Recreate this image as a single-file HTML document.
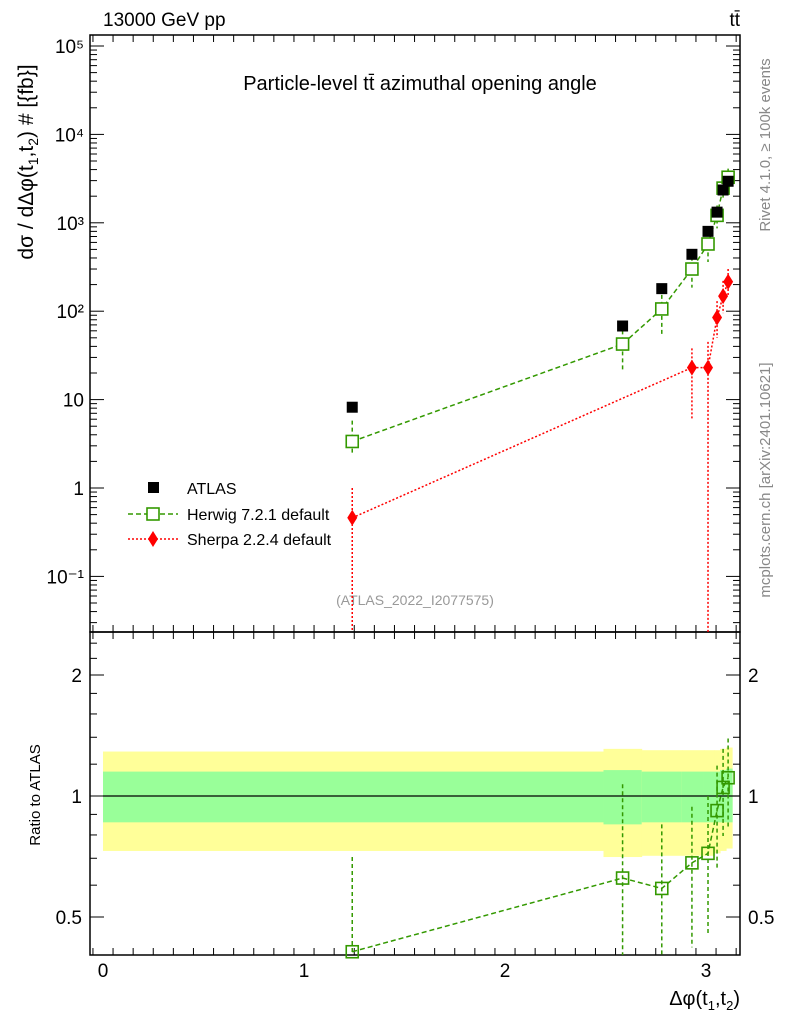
<!DOCTYPE html>
<html><head><meta charset="utf-8"><style>
body{margin:0;background:#fff}
svg{display:block;font-family:"Liberation Sans",sans-serif}
</style></head><body>
<svg id="c" width="786" height="1024" viewBox="0 0 786 1024">
<text x="103" y="26" font-size="19">13000 GeV pp</text>
<text x="740" y="26" font-size="19" text-anchor="end">tt̄</text>
<text x="420" y="90" font-size="20" text-anchor="middle">Particle-level tt̄ azimuthal opening angle</text>
<text transform="translate(770,145) rotate(-90)" font-size="15" fill="#888" text-anchor="middle">Rivet 4.1.0, ≥ 100k events</text>
<text transform="translate(770,480) rotate(-90)" font-size="15" fill="#888" text-anchor="middle">mcplots.cern.ch [arXiv:2401.10621]</text>
<text x="415" y="605" font-size="14" fill="#999" text-anchor="middle">(ATLAS_2022_I2077575)</text>
<text transform="translate(33,162) rotate(-90)" font-size="21" text-anchor="middle">dσ / dΔφ(t<tspan font-size="14" dy="5">1</tspan><tspan dy="-5">,t</tspan><tspan font-size="14" dy="5">2</tspan><tspan dy="-5">) # [{fb}]</tspan></text>
<text transform="translate(40,795) rotate(-90)" font-size="15" text-anchor="middle">Ratio to ATLAS</text>
<text x="740" y="1005" font-size="20" text-anchor="end">Δφ(t<tspan font-size="13" dy="5">1</tspan><tspan dy="-5">,t</tspan><tspan font-size="13" dy="5">2</tspan><tspan dy="-5">)</tspan></text>
<g id="g"></g>
</svg>
<script>
const xCenters=[1.24,2.585,2.78,2.93,3.01,3.055,3.085,3.11];
const binEdges=[0,2.49,2.68,2.88,2.99,3.04,3.07,3.10,3.13,3.14];
const atlas=[8.2,68,180,440,800,1320,2350,2950];
const herwig=[3.36,42.5,106,300,576,1214,2468,3275];
const herwigErrUp=[0.705,1.07,0.85,0.94,1.0,1.19,1.31,1.39];
const herwigErrDn=[0.3,0.3,0.3,0.42,0.45,0.655,0.795,0.83];
const sherpaX=[1.24,2.93,3.01,3.055,3.085,3.11];
const sherpa=[0.46,23,23,85,148,215];
const sherpaErrUp=[1.0,38,45,130,220,300];
const sherpaErrDn=[0.01,6,0.01,50,95,150];
const bandYellowUp=[1.29,1.31,1.30,1.30,1.30,1.30,1.31,1.32];
const bandYellowDn=[0.73,0.705,0.71,0.71,0.71,0.72,0.73,0.74];
const bandGreenUp=[1.15,1.16,1.15,1.15,1.15,1.15,1.16,1.17];
const bandGreenDn=[0.86,0.85,0.86,0.86,0.86,0.86,0.86,0.86];
const mainTicks=["10⁻¹","1","10","10²","10³","10⁴","10⁵"];
const ratioTicks=["0.5","1","2"];
const xTicks=["0","1","2","3"];

const L=90,R=740,T=35,MB=632,RB=955;
const X=v=>103+v*201;
const Y=v=>488-Math.log10(v)*88.4;
const RY=v=>796-Math.log2(v)*121;
const g=document.getElementById('g');
const NS='http://www.w3.org/2000/svg';
function el(t,a,p){const e=document.createElementNS(NS,t);for(const k in a)e.setAttribute(k,a[k]);(p||g).appendChild(e);return e;}
function cl(v,a,b){return Math.max(a,Math.min(b,v));}

for(let i=0;i<xCenters.length;i++){
  const x0=X(binEdges[i]),x1=X(binEdges[i+1]);
  let e=el('rect',{x:x0,y:RY(bandYellowUp[i]),width:x1-x0+0.5,height:RY(bandYellowDn[i])-RY(bandYellowUp[i]),fill:'#ffff99'});
  
  
  e=el('rect',{x:x0,y:RY(bandGreenUp[i]),width:x1-x0+0.5,height:RY(bandGreenDn[i])-RY(bandGreenUp[i]),fill:'#99ff99'});
  
  
}
el('line',{x1:103,x2:R,y1:RY(1),y2:RY(1),stroke:'#000','stroke-width':1.2});

for(const [t,b] of [[T,MB],[MB,RB]]){
  const f=el('rect',{x:L,y:t,width:R-L,height:b-t,fill:'none',stroke:'#000','stroke-width':1.5});
  
  
}
for(let d=-2;d<=5;d++){
  for(let m=1;m<10;m++){
    const v=m*Math.pow(10,d),y=Y(v);
    if(y<T||y>MB)continue;
    const len=m==1?14:7;
    el('line',{x1:L,x2:L+len,y1:y,y2:y,stroke:'#000'});
    el('line',{x1:R,x2:R-len,y1:y,y2:y,stroke:'#000'});
  }
}
mainTicks.forEach((s,i)=>{
  const t=el('text',{x:L-6,y:Y(Math.pow(10,i-1))+7,'font-size':19,'text-anchor':'end'});
  t.textContent=s;
  
  
});
[0.4,0.5,0.6,0.7,0.8,0.9,1,1.2,1.4,1.6,1.8,2,2.2,2.4].forEach(v=>{
  const y=RY(v);if(y<MB||y>RB)return;
  const len=(v==0.5||v==1||v==2)?14:7;
  el('line',{x1:L,x2:L+len,y1:y,y2:y,stroke:'#000'});
  el('line',{x1:R,x2:R-len,y1:y,y2:y,stroke:'#000'});
});
ratioTicks.forEach(s=>{
  let t=el('text',{x:L-8,y:RY(+s)+7,'font-size':19,'text-anchor':'end'});t.textContent=s;
  
  
  t=el('text',{x:R+8,y:RY(+s)+7,'font-size':19});t.textContent=s;
  
  
});
for(let k=-0.05;k<=3.2;k+=0.1){
  const v=Math.round(k*100)/100;const x=X(v);if(x<L||x>R)continue;
  const maj=Math.abs(v-Math.round(v))<0.01,len=maj?14:7;
  for(const [yb,dir] of [[MB,-1],[T,1],[RB,-1],[MB,1]]) el('line',{x1:x,x2:x,y1:yb,y2:yb+dir*len,stroke:'#000'});
}
xTicks.forEach(s=>{
  const t=el('text',{x:X(+s),y:RB+22,'font-size':19,'text-anchor':'middle'});t.textContent=s;
  
  
});

const GR='#339900';
const hr=herwig.map((h,i)=>h/atlas[i]);
el('polyline',{points:xCenters.map((x,i)=>X(x)+','+Y(herwig[i])).join(' '),fill:'none',stroke:GR,'stroke-width':1.5,'stroke-dasharray':'5,3'});
xCenters.forEach((x,i)=>{
  const yu=Y(herwig[i]*herwigErrUp[i]/hr[i]);
  const yd=Y(herwig[i]*Math.max(0.05,herwigErrDn[i]/hr[i]));
  el('line',{x1:X(x),x2:X(x),y1:cl(yu,T,MB),y2:cl(yd,T,MB),stroke:GR,'stroke-width':1.5,'stroke-dasharray':'4,3'});
  const r=el('rect',{x:X(x)-6,y:Y(herwig[i])-6,width:12,height:12,fill:'#fff',stroke:GR,'stroke-width':1.6});
  
  
});
el('polyline',{points:sherpaX.map((x,i)=>X(x)+','+Y(sherpa[i])).join(' '),fill:'none',stroke:'#f00','stroke-width':1.5,'stroke-dasharray':'2,2'});
sherpaX.forEach((x,i)=>{
  el('line',{x1:X(x),x2:X(x),y1:cl(Y(sherpaErrUp[i]),T,MB),y2:cl(Y(sherpaErrDn[i]),T,MB),stroke:'#f00','stroke-width':1.5,'stroke-dasharray':'2,2'});
  const p=el('polygon',{points:`${X(x)},${Y(sherpa[i])-8} ${X(x)+5},${Y(sherpa[i])} ${X(x)},${Y(sherpa[i])+8} ${X(x)-5},${Y(sherpa[i])}`,fill:'#f00'});
  
  
});
xCenters.forEach((x,i)=>{
  const r=el('rect',{x:X(x)-5.5,y:Y(atlas[i])-5.5,width:11,height:11,fill:'#000'});
  
  
});
el('polyline',{points:xCenters.map((x,i)=>X(x)+','+RY(hr[i])).join(' '),fill:'none',stroke:GR,'stroke-width':1.5,'stroke-dasharray':'5,3'});
xCenters.forEach((x,i)=>{
  el('line',{x1:X(x),x2:X(x),y1:cl(RY(herwigErrUp[i]),MB,RB),y2:cl(RY(herwigErrDn[i]),MB,RB),stroke:GR,'stroke-width':1.5,'stroke-dasharray':'4,3'});
  const r=el('rect',{x:X(x)-6,y:RY(hr[i])-6,width:12,height:12,fill:'none',stroke:GR,'stroke-width':1.6});
  
  
});
const lg=el('g',{});


el('rect',{x:148,y:482,width:11,height:11,fill:'#000'},lg);
el('line',{x1:128,x2:178,y1:514,y2:514,stroke:GR,'stroke-width':1.5,'stroke-dasharray':'5,3'},lg);
el('rect',{x:147,y:508,width:12,height:12,fill:'#fff',stroke:GR,'stroke-width':1.6},lg);
el('line',{x1:128,x2:178,y1:539,y2:539,stroke:'#f00','stroke-width':1.5,'stroke-dasharray':'2,2'},lg);
el('polygon',{points:'153,531 158,539 153,547 148,539',fill:'#f00'},lg);
[['ATLAS',494],['Herwig 7.2.1 default',520],['Sherpa 2.2.4 default',545]].forEach(([s,y])=>{
  const t=el('text',{x:187,y:y,'font-size':16},lg);t.textContent=s;
});
</script>
</body></html>
